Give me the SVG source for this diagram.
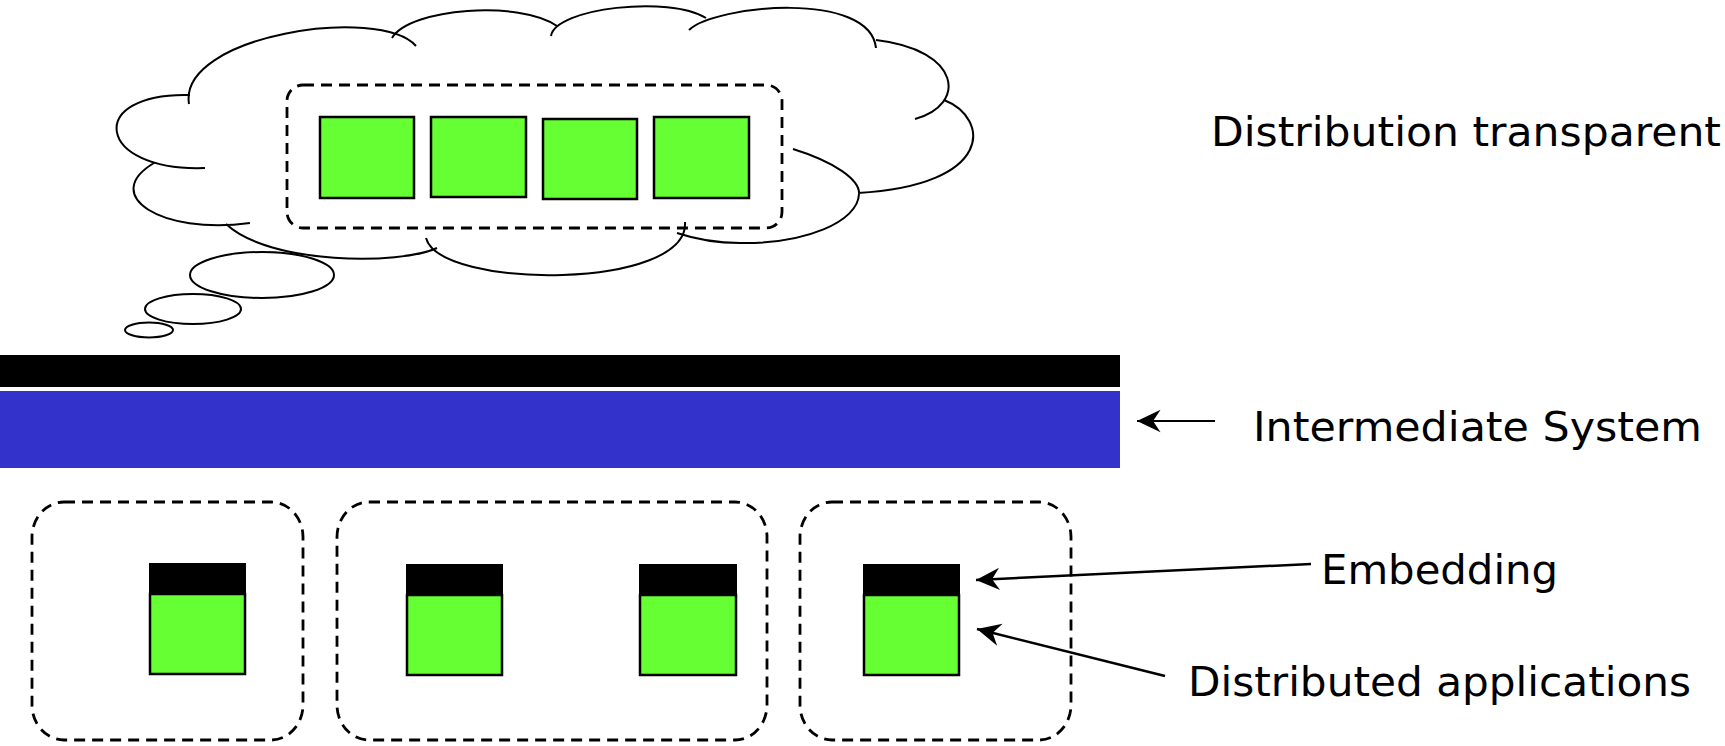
<svg xmlns="http://www.w3.org/2000/svg" width="1725" height="746" viewBox="0 0 1725 746">
<style>
.cloud{fill:none;stroke:#000;stroke-width:2}
.dash{fill:none;stroke:#000;stroke-width:2.8;stroke-dasharray:11 7}
.green{fill:#66FF33;stroke:#000;stroke-width:2.5}
.cap{fill:#000}
.lbl{font-family:"DejaVu Sans","Liberation Sans",sans-serif;font-size:41px;fill:#000}
.conn{stroke:#000;fill:none}
</style>
<defs>
<marker id="arr" markerUnits="userSpaceOnUse" markerWidth="30" markerHeight="30" viewBox="-2 -13 28 26" refX="22" refY="0" orient="auto" overflow="visible">
<path d="M22,0 L0,-10.5 L7,0 L0,10.5 Z" fill="#000"/>
</marker>
</defs>
<rect width="1725" height="746" fill="#fff"/>
<g id="thought-cloud">
<path class="cloud" fill="#fff" d="M189,104 C178,35 380,5 416,46 M392,38 C410,8 520,0 557,26 M551,36 C555,8 670,-5 706,18 M689,30 C715,5 870,-10 876,48 M876,40 C962,50 967,105 915,119 M944,100 C990,118 995,185 858,193 M793,149 C835,162 860,180 859,194 C858,222 805,244 740,243 C715,243 695,239 677,233 M685,222 C690,290 440,290 426,238 M437,248 C400,265 270,265 226,224 M250,223 C160,235 100,195 154,163 M205,168 C95,172 85,92 190,95"/>
<ellipse class="cloud" cx="262" cy="275" rx="72" ry="23"/>
<ellipse class="cloud" cx="193" cy="309" rx="48" ry="15"/>
<ellipse class="cloud" cx="149" cy="330" rx="24" ry="7.5"/>
</g>
<g id="transparent-group">
<rect class="dash" x="287" y="85" width="495" height="143" rx="16"/>
<rect class="green" x="320" y="117" width="94" height="81"/>
<rect class="green" x="431" y="117" width="95" height="80"/>
<rect class="green" x="543" y="119" width="94" height="80"/>
<rect class="green" x="654" y="117" width="95" height="81"/>
</g>
<g id="embedding-bar"><rect class="cap" x="0" y="355" width="1120" height="32"/></g>
<g id="intermediate-system"><rect x="0" y="391" width="1120" height="77" fill="#3333CC"/></g>
<g id="host-1">
<rect class="dash" x="32" y="502" width="271" height="238" rx="32" ry="35"/>
<rect class="green" x="150" y="594" width="95" height="80"/>
<rect class="cap" x="149" y="563" width="97" height="32"/>
</g>
<g id="host-2">
<rect class="dash" x="337" y="502" width="430" height="238" rx="32" ry="35"/>
<rect class="green" x="407" y="595" width="95" height="80"/>
<rect class="cap" x="406" y="564" width="97" height="32"/>
<rect class="green" x="640" y="595" width="96" height="80"/>
<rect class="cap" x="639" y="564" width="98" height="32"/>
</g>
<g id="host-3">
<rect class="dash" x="800" y="502" width="271" height="238" rx="32" ry="35"/>
<rect class="green" x="864" y="595" width="95" height="80"/>
<rect class="cap" x="863" y="564" width="97" height="32"/>
</g>
<g id="connectors">
<line class="conn" stroke-width="2" x1="1215" y1="421" x2="1137" y2="421" marker-end="url(#arr)"/>
<line class="conn" stroke-width="2.5" x1="1311" y1="564" x2="976" y2="580" marker-end="url(#arr)"/>
<line class="conn" stroke-width="2.5" x1="1165" y1="676" x2="977" y2="629" marker-end="url(#arr)"/>
</g>
<g id="labels">
<text class="lbl" x="1211" y="146" textLength="510" lengthAdjust="spacingAndGlyphs">Distribution transparent</text>
<text class="lbl" x="1253" y="441" textLength="449" lengthAdjust="spacingAndGlyphs">Intermediate System</text>
<text class="lbl" x="1321" y="584" textLength="237" lengthAdjust="spacingAndGlyphs">Embedding</text>
<text class="lbl" x="1188" y="696" textLength="503" lengthAdjust="spacingAndGlyphs">Distributed applications</text>
</g>
</svg>
